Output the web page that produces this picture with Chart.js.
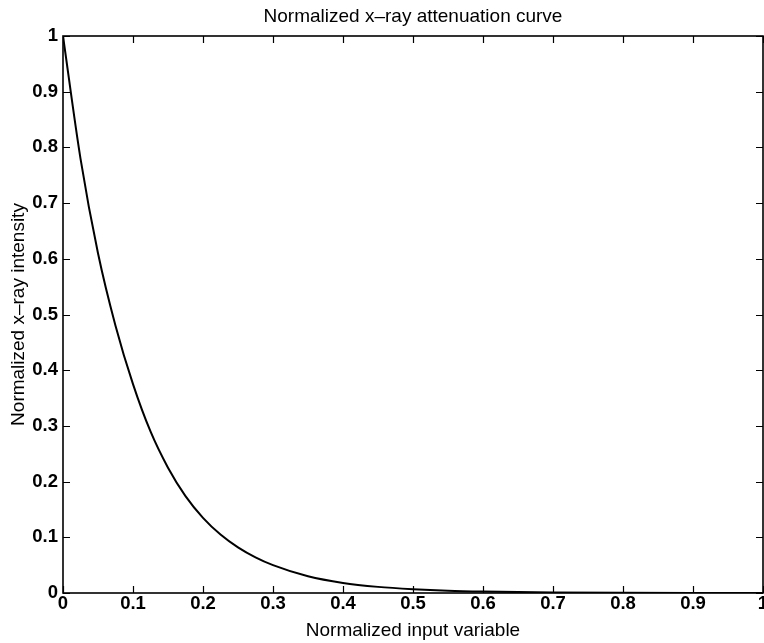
<!DOCTYPE html>
<html>
<head>
<meta charset="utf-8">
<script src="https://cdn.jsdelivr.net/npm/chart.js@4/dist/chart.umd.min.js"></script>
<style>
  html, body { margin: 0; padding: 0; background: #fff; }
  #wrap { width: 764px; height: 643px; }
</style>
</head>
<body>
<div id="wrap"><canvas id="c" width="764" height="643"></canvas></div>
<script>
// ---- data ----
const xValues = [0, 0.025, 0.05, 0.075, 0.1, 0.125, 0.15, 0.175, 0.2, 0.225, 0.25, 0.275, 0.3, 0.35, 0.4, 0.45, 0.5, 0.55, 0.6, 0.7, 0.8, 0.9, 1.0];
const yValues = [1.0, 0.78, 0.61, 0.48, 0.375, 0.29, 0.225, 0.174, 0.135, 0.105, 0.082, 0.064, 0.050, 0.030, 0.018, 0.011, 0.0068, 0.004, 0.0025, 0.0009, 0.0003, 0.0001, 0.00005];
const xTickLabels = ['0', '0.1', '0.2', '0.3', '0.4', '0.5', '0.6', '0.7', '0.8', '0.9', '1'];
const yTickLabels = ['0', '0.1', '0.2', '0.3', '0.4', '0.5', '0.6', '0.7', '0.8', '0.9', '1'];
const chartTitle = 'Normalized x–ray attenuation curve';
const xAxisTitle = 'Normalized input variable';
const yAxisTitle = 'Normalized x–ray intensity';

const FONT = '"Liberation Sans", Arial, Helvetica, sans-serif';

const points = xValues.map((x, i) => ({ x: x, y: yValues[i] }));

// box + inward tick marks on all four sides (MATLAB style)
const boxTicks = {
  id: 'boxTicks',
  afterDatasetsDraw(chart) {
    const { ctx, chartArea: a, scales } = chart;
    const len = 7;
    ctx.save();
    ctx.strokeStyle = '#000';
    ctx.lineWidth = 1.2;
    ctx.beginPath();
    scales.x.ticks.forEach(t => {
      const px = Math.round(scales.x.getPixelForValue(t.value)) + 0.5;
      ctx.moveTo(px, a.bottom); ctx.lineTo(px, a.bottom - len);
      ctx.moveTo(px, a.top); ctx.lineTo(px, a.top + len);
    });
    scales.y.ticks.forEach(t => {
      const py = Math.round(scales.y.getPixelForValue(t.value)) + 0.5;
      ctx.moveTo(a.left, py); ctx.lineTo(a.left + len, py);
      ctx.moveTo(a.right, py); ctx.lineTo(a.right - len, py);
    });
    ctx.stroke();
    ctx.lineWidth = 1.6;
    ctx.strokeRect(a.left, a.top, a.right - a.left, a.bottom - a.top);
    ctx.restore();
  }
};

new Chart(document.getElementById('c'), {
  type: 'line',
  data: {
    datasets: [{
      data: points,
      borderColor: '#000',
      borderWidth: 2,
      pointRadius: 0,
      fill: false,
      cubicInterpolationMode: 'monotone'
    }]
  },
  options: {
    responsive: false,
    animation: false,
    events: [],
    layout: { padding: { left: 0, right: 1, top: 0, bottom: 0 } },
    plugins: {
      legend: { display: false },
      tooltip: { enabled: false },
      title: {
        display: true,
        text: chartTitle,
        fullSize: false,
        color: '#000',
        font: { family: FONT, size: 19, weight: 'normal', lineHeight: 1.2 },
        padding: { top: 5.5, bottom: 7.7 }
      }
    },
    scales: {
      x: {
        type: 'linear',
        min: 0, max: 1,
        grid: { display: false, drawTicks: false },
        border: { display: false },
        ticks: {
          stepSize: 0.1,
          autoSkip: false,
          maxRotation: 0,
          padding: 0,
          color: '#000',
          font: { family: FONT, size: 18.5, weight: 'bold', lineHeight: 1.2 },
          callback: (v, i) => xTickLabels[i]
        },
        title: {
          display: true,
          text: xAxisTitle,
          color: '#000',
          font: { family: FONT, size: 19, lineHeight: 1.2 },
          padding: { top: 0, bottom: 0.5 }
        },
        afterFit(scale) {
          scale.height = 50;
          scale.paddingRight = 0;
          scale.paddingLeft = 0;
        }
      },
      y: {
        type: 'linear',
        min: 0, max: 1,
        grid: { display: false, drawTicks: false },
        border: { display: false },
        ticks: {
          stepSize: 0.1,
          autoSkip: false,
          padding: 5,
          color: '#000',
          font: { family: FONT, size: 18.5, weight: 'bold', lineHeight: 1.2 },
          callback: (v, i) => yTickLabels[i]
        },
        title: {
          display: true,
          text: yAxisTitle,
          color: '#000',
          font: { family: FONT, size: 19, lineHeight: 1.2 },
          padding: { top: 7.5, bottom: 0 }
        },
        afterFit(scale) {
          scale.width = 63;
          scale.paddingTop = 0;
          scale.paddingBottom = 0;
        }
      }
    }
  },
  plugins: [boxTicks]
});
</script>
</body>
</html>
